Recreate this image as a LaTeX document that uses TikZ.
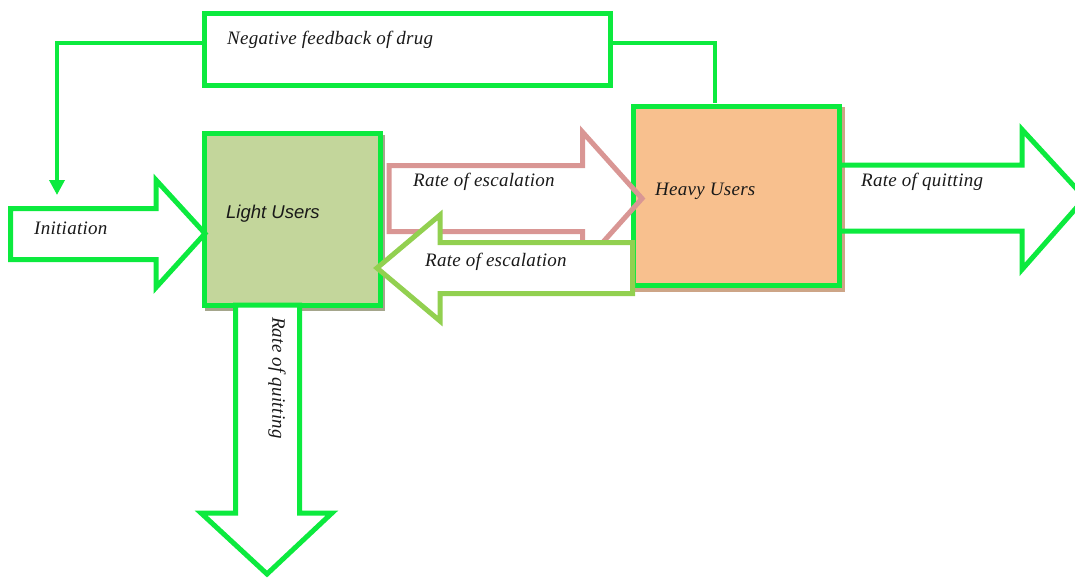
\documentclass[tikz,border=0pt]{standalone}
\usepackage{fontspec}
\setmainfont[LetterSpace=1.5]{Liberation Serif}
\newfontfamily\arialfont{Liberation Sans}
\usetikzlibrary{arrows.meta}
\definecolor{brgreen}{RGB}{12,234,62}
\definecolor{lightfill}{RGB}{195,214,155}
\definecolor{heavyfill}{RGB}{248,192,142}
\definecolor{pinkline}{RGB}{217,150,148}
\definecolor{ltgreen}{RGB}{146,208,80}
\definecolor{lightshadow}{RGB}{165,166,140}
\definecolor{heavyshadow}{RGB}{205,165,135}
\definecolor{txt}{RGB}{25,25,25}
\begin{document}
\begin{tikzpicture}[x=1pt,y=-1pt,
  box/.style={draw=brgreen, line width=5pt, inner sep=0pt, outer sep=0pt},
  bigarrow/.style={line width=5pt, line join=miter},
  lbl/.style={anchor=west, inner sep=0pt, text=txt, font=\fontsize{19}{21}\selectfont\itshape},
  feedback/.style={draw=brgreen, line width=3.5pt}
]
\useasboundingbox (0,0) rectangle (1075,581);
\clip (0,0) rectangle (1075,581);

% feedback box
\node[box, minimum width=405.5pt, minimum height=72pt] (fb) at (407.25,49.5) {};
\node[lbl] (fbt) at (227,39.5) {Negative feedback of drug};

% shadows
\fill[lightshadow] (205,135) rectangle (385,311);
\fill[heavyshadow] (633,107) rectangle (845,292);

% boxes
\node[box, fill=lightfill, minimum width=176pt, minimum height=172pt] (light) at (292,219) {};
\node[box, fill=heavyfill, minimum width=206pt, minimum height=179pt] (heavy) at (736,195.5) {};
\node[lbl, font=\arialfont\fontsize{18.5}{20}\selectfont\itshape] (lt) at (226,214) {Light Users};
\node[lbl] (ht) at (655,191.5) {Heavy Users};

% feedback connectors
\coordinate (fbL) at (fb.west |- 0,43);
\coordinate (fbR) at (fb.east |- 0,43);
\coordinate (initTop) at (57,195);
\coordinate (heavyTop) at (715,103);
\draw[feedback, -{Triangle[width=15pt,length=15pt]}] (fbL) -| (initTop);
\draw[feedback] (fbR) -| (heavyTop);

% initiation arrow
\draw[bigarrow, draw=brgreen] (10.5,208.5) -- (156,208.5) -- (156,180) -- (205,233.5) -- (156,287.5) -- (156,259.5) -- (10.5,259.5) -- cycle;
\node[lbl] (it) at (34,228.5) {Initiation};

% escalation arrows
\draw[bigarrow, draw=pinkline] (389,165.5) -- (582.5,165.5) -- (582.5,132) -- (642,198.5) -- (582.5,265) -- (582.5,231.5) -- (389,231.5) -- cycle;
\node[lbl] (e1) at (413,181.5) {Rate of escalation};
\draw[bigarrow, draw=ltgreen, fill=white] (632.5,242.5) -- (440,242.5) -- (440,215) -- (377,268) -- (440,321) -- (440,293.5) -- (632.5,293.5) -- cycle;
\node[lbl] (e2) at (425,261.5) {Rate of escalation};

% right quitting arrow
\draw[bigarrow, draw=brgreen] (heavy.east |- 0,165) -- (1022,165) -- (1022,129.5) -- (1085,198) -- (1022,269.5) -- (1022,231) -- (heavy.east |- 0,231);
\node[lbl] (q1) at (861,181.5) {Rate of quitting};

% bottom quitting arrow
\draw[bigarrow, draw=brgreen, fill=white] (235.5,305) -- (235.5,513) -- (201,513) -- (267,574) -- (332,513) -- (299.5,513) -- (299.5,305) -- cycle;
\node[lbl, anchor=center, rotate=-90] (q2) at (277,378) {Rate of quitting};
\end{tikzpicture}
\end{document}
